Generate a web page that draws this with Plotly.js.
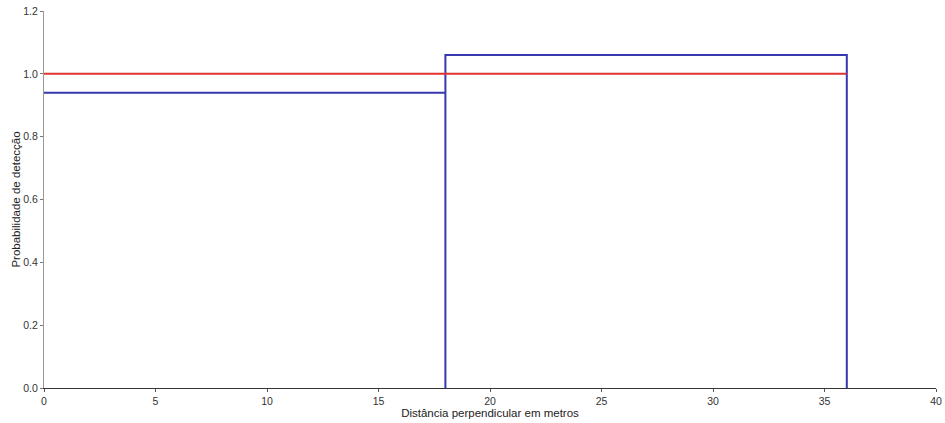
<!DOCTYPE html>
<html>
<head>
<meta charset="utf-8">
<script src="https://cdn.plot.ly/plotly-3.0.1.min.js"></script>
<style>html,body{margin:0;padding:0;background:#fff;}#chart{width:945px;height:423px;}</style>
</head>
<body>
<div id="chart"></div>
<script>
const binStarts = [0, 18];
const binWidths = [18, 18];
const binHeights = [0.94, 1.06];
const fitX = [0, 36];
const fitY = [1.0, 1.0];

// Build the histogram outline (top edges plus the right-hand verticals)
const stepX = [], stepY = [];
binStarts.forEach((s, i) => {
  const e = s + binWidths[i];
  stepX.push(s); stepY.push(binHeights[i]);
  stepX.push(e); stepY.push(binHeights[i]);
  stepX.push(e); stepY.push(0);
  if (i < binStarts.length - 1) { stepX.push(e); stepY.push(binHeights[i + 1]); }
});

const traces = [
  {
    type: 'scatter',
    mode: 'lines',
    x: stepX,
    y: stepY,
    line: { color: 'rgb(55,55,175)', width: 2 },
    hoverinfo: 'skip',
    showlegend: false
  },
  {
    type: 'scatter',
    mode: 'lines',
    x: fitX,
    y: fitY,
    line: { color: 'rgb(225,50,50)', width: 2 },
    showlegend: false
  }
];

const layout = {
  width: 945,
  height: 423,
  margin: { l: 44, r: 9, t: 11, b: 35 },
  paper_bgcolor: '#fff',
  plot_bgcolor: '#fff',
  font: { family: 'Liberation Sans, Arial, sans-serif', size: 10, color: '#333' },
  showlegend: false,
  xaxis: {
    range: [0, 40],
    dtick: 5,
    tick0: 0,
    showgrid: false,
    zeroline: false,
    showline: true,
    linecolor: '#333',
    linewidth: 1,
    ticks: 'outside',
    ticklen: 3,
    tickcolor: '#555',
    tickfont: { size: 10.5, color: '#333' },
    title: { text: 'Distância perpendicular em metros', font: { size: 11.5, color: '#222' }, standoff: 1 }
  },
  yaxis: {
    range: [0, 1.2],
    dtick: 0.2,
    tick0: 0,
    tickformat: '.1f',
    showgrid: false,
    zeroline: false,
    showline: true,
    linecolor: '#999',
    linewidth: 1,
    ticks: 'outside',
    ticklen: 3,
    tickcolor: '#777',
    tickfont: { size: 10.5, color: '#333' },
    title: { text: 'Probabilidade de detecção', font: { size: 11.5, color: '#222' }, standoff: 0 }
  }
};

Plotly.newPlot('chart', traces, layout, { displayModeBar: false, staticPlot: true });
</script>
</body>
</html>
